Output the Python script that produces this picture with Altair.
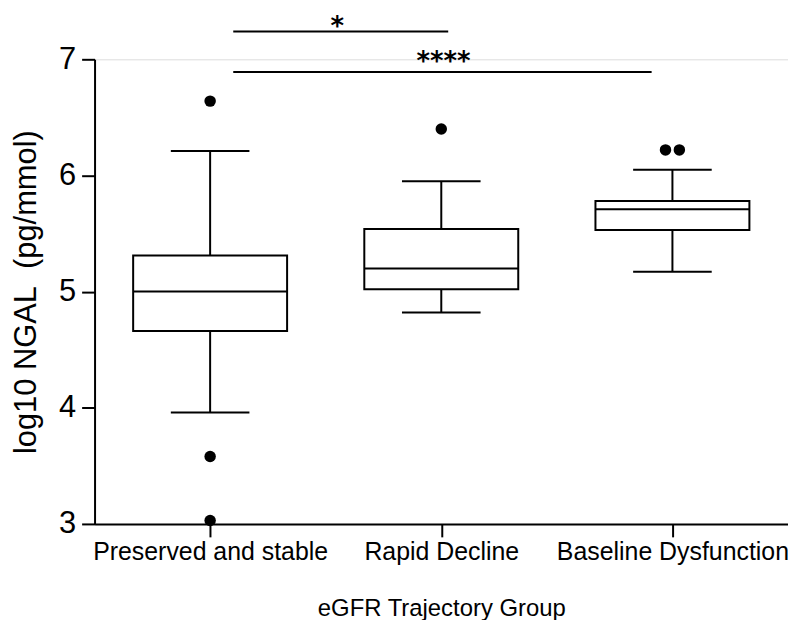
import altair as alt
import pandas as pd

# ---- data ----
groups = ["Preserved and stable", "Rapid Decline", "Baseline Dysfunction"]
whisker_low = [3.96, 4.82, 5.17]
q1 = [4.66, 5.02, 5.53]
median = [5.00, 5.20, 5.71]
q3 = [5.31, 5.54, 5.78]
whisker_high = [6.21, 5.95, 6.05]

outlier_group = ["Preserved and stable", "Preserved and stable", "Preserved and stable",
                 "Rapid Decline", "Baseline Dysfunction", "Baseline Dysfunction"]
outlier_value = [6.64, 3.58, 3.03, 6.40, 6.22, 6.22]
outlier_side = [0, 0, 0, 0, -1, 1]   # side-by-side placement of tied points

# significance brackets (x in group units: group i is centred at i + 0.5)
sig_from = [0.60, 0.60]
sig_to = [1.53, 2.41]
sig_level = [7.24, 6.89]
sig_label = ["*", "****"]
sig_label_x = [1.05, 1.51]
sig_label_y = [7.21, 6.91]

y_ticks = [3, 4, 5, 6, 7]

# ---- styling ----
BOX_HALF = 0.333
CAP_HALF = 0.17
DUP_SHIFT = 0.03
FONT = "Liberation Sans"

box = pd.DataFrame({
    "group": groups,
    "lo": whisker_low, "q1": q1, "med": median, "q3": q3, "hi": whisker_high,
})
box["pos"] = [i + 0.5 for i in range(len(groups))]
box["xl"] = box["pos"] - BOX_HALF
box["xr"] = box["pos"] + BOX_HALF
box["cl"] = box["pos"] - CAP_HALF
box["cr"] = box["pos"] + CAP_HALF

out = pd.DataFrame({"group": outlier_group, "v": outlier_value, "side": outlier_side})
out["pos"] = [groups.index(g) + 0.5 + s * DUP_SHIFT for g, s in zip(outlier_group, outlier_side)]

sig = pd.DataFrame({"x1": sig_from, "x2": sig_to, "y": sig_level})
sig_txt = pd.DataFrame({"x": sig_label_x, "y": sig_label_y, "t": sig_label})

label_expr = "[" + ",".join("'" + g + "'" for g in groups) + "][floor(datum.value)]"

xscale = alt.Scale(domain=[0, 3], nice=False, zero=False)
yscale = alt.Scale(domain=[3, 7], nice=False, zero=False)

x_axis = alt.Axis(values=[i + 0.5 for i in range(len(groups))], labelExpr=label_expr,
                  title="eGFR Trajectory Group", grid=False, domainColor="black",
                  domainWidth=2, tickColor="black", tickWidth=2, tickSize=13,
                  labelFont=FONT, labelFontSize=25, labelColor="black", labelPadding=3,
                  labelLimit=0, labelOverlap=False,
                  titleFont=FONT, titleFontSize=24, titleFontWeight="normal",
                  titleColor="black", titlePadding=32)
y_axis = alt.Axis(values=y_ticks, title="log10 NGAL\u00a0 (pg/mmol)", grid=False,
                  domainColor="black", domainWidth=2, tickColor="black", tickWidth=2,
                  tickSize=13, labelFont=FONT, labelFontSize=31, labelColor="black",
                  labelPadding=6, titleFont=FONT, titleFontSize=31,
                  titleFontWeight="normal", titleColor="black", titlePadding=16)


def X(f):
    return alt.X(f, scale=xscale, axis=x_axis)


def Y(f):
    return alt.Y(f, scale=yscale, axis=y_axis)


base = alt.Chart(box)
RULE = dict(color="black", strokeWidth=2)

whisk_lo = base.mark_rule(**RULE).encode(x=X("pos:Q"), y=Y("lo:Q"), y2="q1:Q")
whisk_hi = base.mark_rule(**RULE).encode(x=X("pos:Q"), y=Y("q3:Q"), y2="hi:Q")
cap_lo = base.mark_rule(**RULE).encode(x=X("cl:Q"), x2="cr:Q", y=Y("lo:Q"))
cap_hi = base.mark_rule(**RULE).encode(x=X("cl:Q"), x2="cr:Q", y=Y("hi:Q"))
rect = base.mark_rect(fill="white", stroke="black", strokeWidth=2).encode(
    x=X("xl:Q"), x2="xr:Q", y=Y("q1:Q"), y2="q3:Q")
med = base.mark_rule(**RULE).encode(x=X("xl:Q"), x2="xr:Q", y=Y("med:Q"))

pts = alt.Chart(out).mark_circle(size=133, color="black", opacity=1).encode(
    x=X("pos:Q"), y=Y("v:Q"))

sig_lines = alt.Chart(sig).mark_rule(**RULE).encode(
    x=X("x1:Q"), x2="x2:Q", y=Y("y:Q"))
sig_text = alt.Chart(sig_txt).mark_text(font="DejaVu Sans", fontSize=26, fontWeight="bold",
                                        color="black", align="center",
                                        baseline="alphabetic").encode(
    x=X("x:Q"), y=Y("y:Q"), text="t:N")

chart = alt.layer(whisk_lo, whisk_hi, cap_lo, cap_hi, rect, med, pts, sig_lines, sig_text).properties(
    width=697, height=467,
    autosize=alt.AutoSizeParams(type="none"),
    padding={"left": 87, "top": 50, "right": 0, "bottom": 95},
).configure_view(strokeOpacity=0).configure(background="white")

chart.save("out.html", embed_options={"renderer": "svg", "actions": False})
